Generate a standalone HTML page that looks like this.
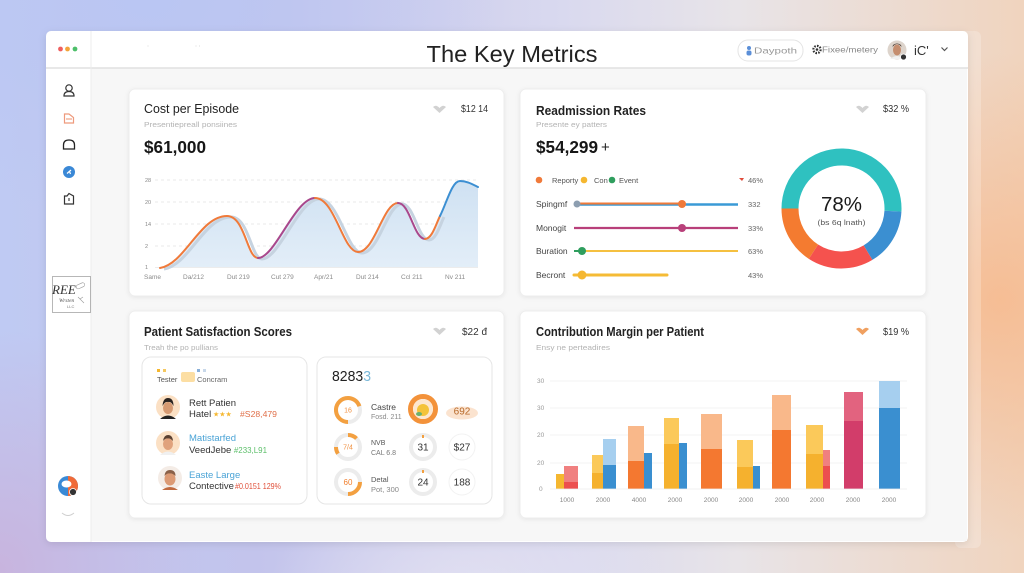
<!DOCTYPE html>
<html><head><meta charset="utf-8">
<style>
html,body{margin:0;padding:0;width:1024px;height:573px;overflow:hidden}
body{position:relative;background:
 radial-gradient(ellipse 330px 330px at 1000px 300px, rgba(246,188,146,0.95), rgba(246,188,146,0) 75%),
 radial-gradient(ellipse 260px 300px at 0px 570px, rgba(200,180,222,1), rgba(200,180,222,0) 80%),
 radial-gradient(ellipse 260px 200px at 470px 620px, rgba(228,226,242,1), rgba(228,226,242,0) 80%),
 radial-gradient(ellipse 420px 260px at 150px 0px, rgba(186,198,243,1), rgba(186,198,243,0) 85%),
 linear-gradient(90deg,#bfcaf3 0%,#c3c4ec 25%,#d9d9ef 55%,#e8e4e8 72%,#f0d4be 100%);}
svg{position:absolute;left:0;top:0}
text{font-family:"Liberation Sans",sans-serif}
</style></head><body>
<svg width="1024" height="573" viewBox="0 0 1024 573">
<defs>
 <filter id="ws" x="-5%" y="-5%" width="110%" height="115%"><feDropShadow dx="0" dy="2" stdDeviation="4" flood-color="#000" flood-opacity="0.10"/></filter>
 <filter id="cs" x="-5%" y="-5%" width="110%" height="115%"><feDropShadow dx="0" dy="1" stdDeviation="2" flood-color="#000" flood-opacity="0.07"/></filter>
 <linearGradient id="area" x1="0" y1="0" x2="0" y2="1"><stop offset="0" stop-color="#cfe1f2"/><stop offset="1" stop-color="#e3eef8"/></linearGradient>
</defs>

<!-- back panel -->
<rect x="955" y="31" width="26" height="517" rx="6" fill="#fff" opacity="0.22"/>
<!-- window -->
<rect x="46" y="31" width="922" height="511" rx="5" fill="#fff" filter="url(#ws)"/>
<rect x="91" y="68" width="876" height="473" fill="#f7f7f7"/>
<line x1="46" y1="68" x2="968" y2="68" stroke="#e0e0e0" stroke-width="1.5"/>
<line x1="91" y1="31" x2="91" y2="542" stroke="#ececec"/>

<!-- header -->
<circle cx="60.5" cy="49" r="2.4" fill="#ef5f5f"/>
<circle cx="67.5" cy="49" r="2.4" fill="#f3a43a"/>
<circle cx="75" cy="49" r="2.4" fill="#4dbf6a"/>
<text x="147" y="50" font-size="6" fill="#999">ˈ</text>
<text x="195" y="50" font-size="6" fill="#999">ˈ ˈ</text>
<text x="512" y="62" font-size="23.5" text-anchor="middle" fill="#222" textLength="171" lengthAdjust="spacingAndGlyphs">The Key Metrics</text>
<rect x="738" y="40" width="65" height="21" rx="10" fill="#fff" stroke="#e4e4e4"/>
<circle cx="749" cy="48" r="2" fill="#5b8fd8"/>
<rect x="746.5" y="50.5" width="5" height="5" rx="2" fill="#5b8fd8"/>
<text x="754" y="53.5" font-size="8.5" fill="#999" textLength="43" lengthAdjust="spacingAndGlyphs">Daypoth</text>
<circle cx="817" cy="49.5" r="3.6" fill="none" stroke="#333" stroke-width="2.2" stroke-dasharray="1.6 1.2"/>
<circle cx="817" cy="49.5" r="1.3" fill="#333"/>
<text x="822" y="52.5" font-size="8" fill="#888" textLength="56" lengthAdjust="spacingAndGlyphs">Fixee/metery</text>
<circle cx="897" cy="50" r="9.5" fill="#ddd4cc"/>
<ellipse cx="897" cy="50" rx="4" ry="5.5" fill="#c58d6e"/>
<path d="M892.5,47 Q897,41 901.5,47 L901,45 Q897,42 893,45 Z" fill="#4a3a30"/>
<path d="M890,59 Q897,53 904,59 Z" fill="#f1f1f1"/>
<circle cx="903.5" cy="57" r="3" fill="#333" stroke="#fff" stroke-width="0.8"/>
<text x="914" y="55" font-size="13" fill="#333">iC'</text>
<polyline points="941.5,47.5 944.5,50.5 947.5,47.5" fill="none" stroke="#555" stroke-width="1.2"/>

<!-- sidebar icons -->
<circle cx="69" cy="88" r="3.2" fill="none" stroke="#333" stroke-width="1.2"/>
<path d="M64,96 Q64,91.5 69,91.5 Q74,91.5 74,96 Z" fill="none" stroke="#333" stroke-width="1.2"/>
<path d="M64.5,114 L69,114 L73.5,117.5 L73.5,123 L64.5,123 Z" fill="none" stroke="#ee9a7c" stroke-width="1.2"/>
<line x1="66" y1="119" x2="72" y2="119" stroke="#ee9a7c" stroke-width="1.1"/>
<path d="M63.5,149 L63.5,145 Q63.5,140 69,140 Q74.5,140 74.5,145 L74.5,149 Z" fill="none" stroke="#222" stroke-width="1.3"/>
<circle cx="69" cy="172" r="6" fill="#3a88d6"/>
<path d="M67,173.5 L71,170 M69.5,171.5 L70.5,174" stroke="#fff" stroke-width="1.2"/>
<path d="M64.5,196 L67,196 L69,193.5 L73.5,196 L73.5,204 L64.5,204 Z" fill="none" stroke="#333" stroke-width="1.2"/>
<line x1="69" y1="198" x2="69" y2="201" stroke="#333" stroke-width="1.1"/>
<!-- logo -->
<rect x="52.5" y="276.5" width="38" height="36" fill="#fff" stroke="#999" stroke-width="0.7"/>
<text x="52" y="294" font-size="13" font-style="italic" fill="#333" style="font-family:'Liberation Serif',serif">REE</text>
<rect x="76" y="284" width="9" height="4" rx="2" transform="rotate(-25 80 286)" fill="none" stroke="#999" stroke-width="0.6"/>
<text x="59" y="302" font-size="5.5" font-style="italic" fill="#555" style="font-family:'Liberation Serif',serif">Wrsten</text>
<text x="67" y="308" font-size="4" fill="#777">LLC</text>
<path d="M78,297 L84,303 M80,299 l3,-2" stroke="#999" stroke-width="0.6"/>
<!-- bottom avatar -->
<circle cx="68" cy="486" r="10" fill="#3a8ad6"/>
<path d="M68,476 A10,10 0 0 1 68,496 Z" fill="#f06a38"/>
<ellipse cx="66.5" cy="484" rx="5" ry="3.5" fill="#fff"/>
<circle cx="73" cy="492" r="3.5" fill="#333" stroke="#fff" stroke-width="0.8"/>
<path d="M62,513 Q68,518 74,513" fill="none" stroke="#cfcfcf" stroke-width="1"/>

<!-- CARD 1 -->
<rect x="129" y="89" width="375" height="207" rx="6" fill="#fff" stroke="#ededed" filter="url(#cs)"/>
<text x="144" y="113" font-size="12.5" fill="#222" textLength="95" lengthAdjust="spacingAndGlyphs">Cost per Episode</text>
<text x="144" y="127" font-size="7.5" fill="#b3b3b3" textLength="93" lengthAdjust="spacingAndGlyphs">Presentiepreall ponsiines</text>
<path d="M433,107 Q436,104 439.5,108 Q443,104 446,107 L439.5,113 Z" fill="#d2d2d2"/>
<text x="461" y="112" font-size="10" fill="#333" textLength="27" lengthAdjust="spacingAndGlyphs">$12 14</text>
<text x="144" y="153" font-size="17.5" font-weight="bold" fill="#161616" textLength="62" lengthAdjust="spacingAndGlyphs">$61,000</text>
<g stroke="#e2e2e2" stroke-dasharray="3 3" stroke-width="0.8">
 <line x1="155" y1="180" x2="478" y2="180"/>
 <line x1="155" y1="202" x2="478" y2="202"/>
 <line x1="155" y1="224" x2="478" y2="224"/>
 <line x1="155" y1="246" x2="478" y2="246"/>
</g>
<line x1="155" y1="267.5" x2="478" y2="267.5" stroke="#e6e6e6" stroke-width="0.8"/>
<g font-size="5.5" fill="#888">
 <text x="145" y="182">28</text><text x="145" y="204">20</text><text x="145" y="226">14</text><text x="145" y="248">2</text><text x="145" y="269">1</text>
</g>
<path d="M160,268 C185,264 200,216 227,216 C245,216 247,258 258,258 C275,258 295,198 315,198 C335,198 343,252 358,252 C375,252 383,203 398,203 C410,203 414,239 425,239 C432,239 436,224 440,216 C447,202 452,181 460,181 C467,181 472,184 478,187 L478,267 L160,267 Z" fill="url(#area)"/>
<path d="M160,268 C185,264 200,216 227,216 C245,216 247,258 258,258 C275,258 295,198 315,198 C335,198 343,252 358,252 C375,252 383,203 398,203 C410,203 414,239 425,239 C432,239 436,224 440,216" fill="none" stroke="#c6d3e0" stroke-width="3" transform="translate(4,1)"/>
<g fill="none" stroke-width="2" stroke-linecap="round">
 <path d="M160,268 C185,264 200,216 227,216 C245,216 247,258 258,258" stroke="#f07a3a"/>
 <path d="M258,258 C275,258 295,198 315,198" stroke="#a9488c"/>
 <path d="M315,198 C335,198 343,252 358,252 C375,252 383,203 398,203" stroke="#f07a3a"/>
 <path d="M398,203 C410,203 414,239 425,239" stroke="#a9488c"/>
 <path d="M425,239 C432,239 436,224 440,216" stroke="#f07a3a"/>
 <path d="M440,216 C447,202 452,181 460,181 C467,181 472,184 478,187" stroke="#3c8fd2"/>
</g>
<g font-size="6.5" fill="#8a8a8a">
 <text x="144" y="279">Same</text><text x="183" y="279">Da/212</text><text x="227" y="279">Dut 219</text><text x="271" y="279">Cut 279</text>
 <text x="314" y="279">Apr/21</text><text x="356" y="279">Dut 214</text><text x="401" y="279">Ccl 211</text><text x="445" y="279">Nv 211</text>
</g>

<!-- CARD 2 -->
<rect x="520" y="89" width="406" height="207" rx="6" fill="#fff" stroke="#ededed" filter="url(#cs)"/>
<text x="536" y="115" font-size="13" font-weight="bold" fill="#222" textLength="110" lengthAdjust="spacingAndGlyphs">Readmission Rates</text>
<text x="536" y="127" font-size="7.5" fill="#b3b3b3" textLength="71" lengthAdjust="spacingAndGlyphs">Presente ey patters</text>
<path d="M856,107 Q859,104 862.5,108 Q866,104 869,107 L862.5,113 Z" fill="#d2d2d2"/>
<text x="883" y="112" font-size="10" fill="#333" textLength="26" lengthAdjust="spacingAndGlyphs">$32 %</text>
<text x="536" y="153" font-size="17.5" font-weight="bold" fill="#161616" textLength="62" lengthAdjust="spacingAndGlyphs">$54,299</text>
<text x="601" y="152" font-size="15" fill="#222">+</text>
<!-- legend -->
<circle cx="539" cy="180" r="3.3" fill="#f07a3a"/>
<text x="552" y="183" font-size="7.5" fill="#555">Reporty</text>
<circle cx="584" cy="180" r="3.3" fill="#f5b730"/>
<text x="594" y="183" font-size="7.5" fill="#555">Con</text>
<circle cx="612" cy="180" r="3.3" fill="#2f9e5e"/>
<text x="619" y="183" font-size="7.5" fill="#555">Event</text>
<path d="M739,178 L744,178 L742,181 Z" fill="#e04a3a"/>
<g font-size="7.5" fill="#666">
 <text x="748" y="183">46%</text><text x="748" y="207">332</text><text x="748" y="231">33%</text><text x="748" y="254">63%</text><text x="748" y="278">43%</text>
</g>
<g font-size="8.5" fill="#444">
 <text x="536" y="207">Spingmf</text><text x="536" y="231">Monogit</text><text x="536" y="254">Buration</text><text x="536" y="278">Becront</text>
</g>
<line x1="577" y1="204.5" x2="738" y2="204.5" stroke="#3a9ad6" stroke-width="2.5"/>
<line x1="577" y1="203.5" x2="682" y2="203.5" stroke="#f07a3a" stroke-width="2"/>
<circle cx="577" cy="204" r="3.5" fill="#8d9eb0"/>
<circle cx="682" cy="204" r="4" fill="#f07a3a"/>
<line x1="574" y1="228" x2="738" y2="228" stroke="#b8407a" stroke-width="2.2"/>
<circle cx="682" cy="228" r="4" fill="#b8407a"/>
<line x1="574" y1="251" x2="582" y2="251" stroke="#2f9e5e" stroke-width="2"/>
<line x1="582" y1="251" x2="738" y2="251" stroke="#f5c040" stroke-width="2"/>
<circle cx="582" cy="251" r="4" fill="#2f9e5e"/>
<line x1="574" y1="275" x2="667" y2="275" stroke="#f5bb35" stroke-width="3" stroke-linecap="round"/>
<circle cx="582" cy="275" r="4.5" fill="#f5b730"/>
<!-- donut -->
<g fill="none" stroke-width="17">
 <path d="M790,208.5 A51.5,51.5 0 1 1 892.93,211.19" stroke="#2fc1c0"/>
 <path d="M892.93,211.19 A51.5,51.5 0 0 1 868.02,252.65" stroke="#3b8fd1"/>
 <path d="M868.02,252.65 A51.5,51.5 0 0 1 813.45,251.69" stroke="#f5524e"/>
 <path d="M813.45,251.69 A51.5,51.5 0 0 1 790,208.5" stroke="#f47b30"/>
</g>
<text x="841.5" y="211" font-size="20" text-anchor="middle" fill="#1a1a1a" textLength="41" lengthAdjust="spacingAndGlyphs">78%</text>
<text x="841.5" y="225" font-size="7.5" text-anchor="middle" fill="#555" textLength="48" lengthAdjust="spacingAndGlyphs">(bs 6q lnath)</text>

<!-- CARD 3 -->
<rect x="129" y="311" width="375" height="207" rx="6" fill="#fff" stroke="#ededed" filter="url(#cs)"/>
<text x="144" y="336" font-size="13" font-weight="bold" fill="#222" textLength="148" lengthAdjust="spacingAndGlyphs">Patient Satisfaction Scores</text>
<text x="144" y="350" font-size="7.5" fill="#b3b3b3" textLength="74" lengthAdjust="spacingAndGlyphs">Treah the po pullians</text>
<path d="M433,329 Q436,326 439.5,330 Q443,326 446,329 L439.5,335 Z" fill="#d2d2d2"/>
<text x="462" y="335" font-size="10" fill="#333" textLength="25" lengthAdjust="spacingAndGlyphs">$22 đ</text>
<rect x="142" y="357" width="165" height="147" rx="9" fill="#fff" stroke="#e6e6e6"/>
<rect x="317" y="357" width="175" height="147" rx="9" fill="#fff" stroke="#e6e6e6"/>
<!-- left box -->
<rect x="157" y="369" width="3" height="3" fill="#f5b730"/><rect x="163" y="369" width="3" height="3" fill="#f5c860"/>
<rect x="197" y="369" width="3" height="3" fill="#8ab0d8"/><rect x="203" y="369" width="3" height="3" fill="#c8d8ea"/>
<rect x="181" y="372" width="14" height="10" rx="2" fill="#fbd68c" opacity="0.8"/>
<text x="157" y="382" font-size="7.5" fill="#555">Tester</text>
<text x="197" y="382" font-size="7.5" fill="#666">Concram</text>
<g>
 <circle cx="168" cy="407" r="12" fill="#fbe0c4"/>
 <ellipse cx="168" cy="408" rx="5" ry="6" fill="#d69a72"/>
 <path d="M162.5,406 Q163,398 168,398 Q173.5,398 173.5,406 Q171,401 168,402 Q165,401 162.5,406 Z" fill="#2a2320"/>
 <path d="M160,419 Q168,412 176,419 Z" fill="#222"/>
 <circle cx="168" cy="443" r="12" fill="#fbe0c4"/>
 <ellipse cx="168" cy="444" rx="5" ry="6" fill="#e0a27c"/>
 <path d="M163,441 Q164,435 168,435 Q172.5,435 173,441 Q170,438 168,438.5 Q165.5,438 163,441 Z" fill="#5a4030"/>
 <path d="M160,455 Q168,448 176,455 Z" fill="#f0f0f0"/>
 <circle cx="170" cy="478" r="12" fill="#f4ece6"/>
 <ellipse cx="170" cy="479" rx="5.5" ry="6.5" fill="#dc9a74"/>
 <path d="M164.5,476 Q165,470 170,470 Q175.5,470 175.5,476 Q172,473 170,473.5 Q167,473 164.5,476 Z" fill="#8a6048"/>
 <path d="M162,490 Q170,484 178,490 Z" fill="#c06a40"/>
</g>
<text x="189" y="406" font-size="9.5" fill="#333">Rett Patien</text>
<text x="189" y="417" font-size="9.5" fill="#333">Hatel</text>
<text x="213" y="416.5" font-size="7" fill="#f5b730">★★★</text>
<text x="240" y="417" font-size="8" fill="#e0704a" textLength="37" lengthAdjust="spacingAndGlyphs">#S28,479</text>
<text x="189" y="441" font-size="9.5" fill="#4aa3d6">Matistarfed</text>
<text x="189" y="453" font-size="9.5" fill="#333">VeedJebe</text>
<text x="229" y="453" font-size="8" fill="#5cbf6a" textLength="38" lengthAdjust="spacingAndGlyphs">· #233,L91</text>
<text x="189" y="478" font-size="9.5" fill="#4aa3d6">Easte Large</text>
<text x="189" y="489" font-size="9.5" fill="#333">Contective</text>
<text x="235" y="489" font-size="8" fill="#e0503a" textLength="46" lengthAdjust="spacingAndGlyphs">#0.0151 129%</text>
<!-- right box -->
<text x="332" y="381" font-size="15" fill="#222" textLength="39" lengthAdjust="spacingAndGlyphs">8283<tspan fill="#7ab8d8">3</tspan></text>
<g fill="none" stroke-width="4">
 <circle cx="348" cy="410" r="12" stroke="#ececec"/>
 <path d="M348,422 A12,12 0 1 1 359.4,406.3" stroke="#f3a040"/>
 <circle cx="423" cy="409" r="12.5" stroke="#f3923a" stroke-width="5"/>
 <circle cx="348" cy="447" r="12" stroke="#ececec"/>
 <path d="M348,435 A12,12 0 0 1 356.5,438.5" stroke="#f3a040"/>
 <path d="M336,447 A12,12 0 0 0 338,453.7" stroke="#f3a040"/>
 <circle cx="423" cy="447" r="12" stroke="#ececec"/>
 <path d="M423,435 L423,438" stroke="#f3a040" stroke-width="2"/>
 <circle cx="348" cy="482" r="12" stroke="#ececec"/>
 <path d="M360,482 A12,12 0 0 1 348,494" stroke="#f3a040"/>
 <circle cx="423" cy="482" r="12" stroke="#ececec"/>
 <path d="M423,470 L423,473" stroke="#f3a040" stroke-width="2"/>
</g>
<circle cx="423" cy="409" r="10" fill="#fde7cf"/>
<ellipse cx="423" cy="410" rx="6" ry="6" fill="#f4c33a"/>
<ellipse cx="419" cy="414" rx="3" ry="2" fill="#6ab070"/>
<text x="348" y="412.5" font-size="7" text-anchor="middle" fill="#f09040">16</text>
<text x="348" y="449.5" font-size="7" text-anchor="middle" fill="#f09040">7/4</text>
<text x="348" y="485" font-size="8" text-anchor="middle" fill="#f08030">60</text>
<text x="423" y="450.5" font-size="10" text-anchor="middle" fill="#333">31</text>
<text x="423" y="485.5" font-size="10" text-anchor="middle" fill="#333">24</text>
<text x="371" y="410" font-size="8.5" fill="#444">Castre</text>
<text x="371" y="419" font-size="7" fill="#888">Fosd. 211</text>
<text x="371" y="445" font-size="7" fill="#555">NVB</text>
<text x="371" y="455" font-size="7" fill="#777">CAL 6.8</text>
<text x="371" y="482" font-size="7.5" fill="#555">Detal</text>
<text x="371" y="492" font-size="7.5" fill="#888">Pot, 300</text>
<ellipse cx="462" cy="413" rx="16" ry="6.5" fill="#fbe3cf"/>
<text x="462" y="414.5" font-size="10" text-anchor="middle" fill="#b86a2a">692</text>
<circle cx="462" cy="447" r="13" fill="#fff" stroke="#f2f2f2"/>
<text x="462" y="450.5" font-size="10" text-anchor="middle" fill="#333">$27</text>
<circle cx="462" cy="482" r="13" fill="#fff" stroke="#f2f2f2"/>
<text x="462" y="485.5" font-size="10" text-anchor="middle" fill="#333">188</text>

<!-- CARD 4 -->
<rect x="520" y="311" width="406" height="207" rx="6" fill="#fff" stroke="#ededed" filter="url(#cs)"/>
<text x="536" y="336" font-size="13" font-weight="bold" fill="#222" textLength="168" lengthAdjust="spacingAndGlyphs">Contribution Margin per Patient</text>
<text x="536" y="350" font-size="7.5" fill="#b3b3b3" textLength="74" lengthAdjust="spacingAndGlyphs">Ensy ne perteadires</text>
<path d="M856,329 Q859,326 862.5,330 Q866,326 869,329 L862.5,335 Z" fill="#f0a060"/>
<text x="883" y="335" font-size="10" fill="#333" textLength="26" lengthAdjust="spacingAndGlyphs">$19 %</text>
<g stroke="#efefef" stroke-width="0.8">
 <line x1="550" y1="381" x2="907" y2="381"/><line x1="550" y1="408" x2="907" y2="408"/>
 <line x1="550" y1="435" x2="907" y2="435"/><line x1="550" y1="463" x2="907" y2="463"/>
</g>
<g font-size="6.5" fill="#999">
 <text x="537" y="383">30</text><text x="537" y="410">30</text><text x="537" y="437">20</text><text x="537" y="465">20</text><text x="539" y="491">0</text>
</g>
<!-- bars -->
<rect x="556" y="474" width="8" height="15" fill="#f5b730"/>
<rect x="564" y="466" width="14" height="16" fill="#f08080"/><rect x="564" y="482" width="14" height="7" fill="#ec4f4f"/>
<rect x="592" y="455" width="11" height="18" fill="#fbc95a"/><rect x="592" y="473" width="11" height="16" fill="#f5b12e"/>
<rect x="603" y="439" width="13" height="26" fill="#a6cfef"/><rect x="603" y="465" width="13" height="24" fill="#3a8fd0"/>
<rect x="628" y="426" width="16" height="35" fill="#f9b88a"/><rect x="628" y="461" width="16" height="28" fill="#f47830"/>
<rect x="644" y="453" width="8" height="36" fill="#3a8fd0"/>
<rect x="664" y="418" width="15" height="26" fill="#fbc95a"/><rect x="664" y="444" width="15" height="45" fill="#f5b12e"/>
<rect x="679" y="443" width="8" height="46" fill="#3a8fd0"/>
<rect x="701" y="414" width="21" height="35" fill="#f9b88a"/><rect x="701" y="449" width="21" height="40" fill="#f47830"/>
<rect x="737" y="440" width="16" height="27" fill="#fbc95a"/><rect x="737" y="467" width="16" height="22" fill="#f5b12e"/>
<rect x="753" y="466" width="7" height="23" fill="#3a8fd0"/>
<rect x="772" y="395" width="19" height="35" fill="#f9b88a"/><rect x="772" y="430" width="19" height="59" fill="#f47830"/>
<rect x="806" y="425" width="17" height="29" fill="#fbc95a"/><rect x="806" y="454" width="17" height="35" fill="#f5b12e"/>
<rect x="823" y="450" width="7" height="16" fill="#f08080"/><rect x="823" y="466" width="7" height="23" fill="#ec4f4f"/>
<rect x="844" y="392" width="19" height="29" fill="#e2637f"/><rect x="844" y="421" width="19" height="68" fill="#d23d6a"/>
<rect x="879" y="381" width="21" height="27" fill="#a6cfef"/><rect x="879" y="408" width="21" height="81" fill="#3a8fd0"/>
<line x1="550" y1="489" x2="907" y2="489" stroke="#eeeeee" stroke-width="0.8"/>
<g font-size="6.5" fill="#888" text-anchor="middle">
 <text x="567" y="502">1000</text><text x="603" y="502">2000</text><text x="639" y="502">4000</text><text x="675" y="502">2000</text>
 <text x="711" y="502">2000</text><text x="746" y="502">2000</text><text x="782" y="502">2000</text><text x="817" y="502">2000</text>
 <text x="853" y="502">2000</text><text x="889" y="502">2000</text>
</g>
</svg>
</body></html>
